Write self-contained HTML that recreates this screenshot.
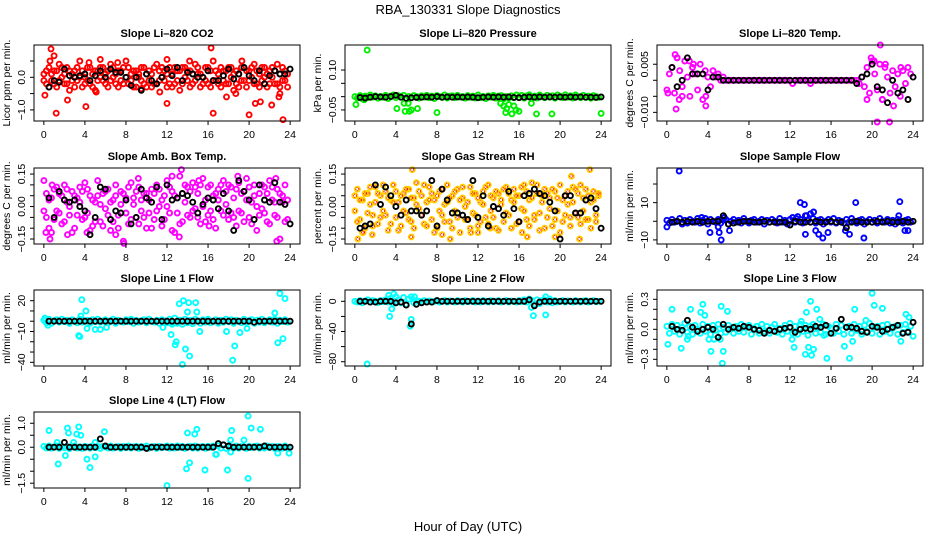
<!DOCTYPE html>
<html><head><meta charset="utf-8">
<style>
html,body{margin:0;padding:0;background:#fff;}
svg text{font-family:"Liberation Sans",Arial,sans-serif;fill:#000;}
</style></head>
<body>
<svg id="chart" width="936" height="540" viewBox="0 0 936 540" xmlns="http://www.w3.org/2000/svg">
<rect width="936" height="540" fill="#fff"/>
<text x="468" y="14" text-anchor="middle" font-size="13">RBA_130331  Slope Diagnostics</text>
<text x="468" y="531" text-anchor="middle" font-size="13">Hour of Day (UTC)</text>
</svg>
<script>
// shared hour grids
const hq = [0,0.25,0.5,0.75,1,1.25,1.5,1.75,2,2.25,2.5,2.75,3,3.25,3.5,3.75,4,4.25,4.5,4.75,5,5.25,5.5,5.75,6,6.25,6.5,6.75,7,7.25,7.5,7.75,8,8.25,8.5,8.75,9,9.25,9.5,9.75,10,10.25,10.5,10.75,11,11.25,11.5,11.75,12,12.25,12.5,12.75,13,13.25,13.5,13.75,14,14.25,14.5,14.75,15,15.25,15.5,15.75,16,16.25,16.5,16.75,17,17.25,17.5,17.75,18,18.25,18.5,18.75,19,19.25,19.5,19.75,20,20.25,20.5,20.75,21,21.25,21.5,21.75,22,22.25,22.5,22.75,23,23.25,23.5,23.75];
const hb = [0.5,1,1.5,2,2.5,3,3.5,4,4.5,5,5.5,6,6.5,7,7.5,8,8.5,9,9.5,10,10.5,11,11.5,12,12.5,13,13.5,14,14.5,15,15.5,16,16.5,17,17.5,18,18.5,19,19.5,20,20.5,21,21.5,22,22.5,23,23.5,24];
const xTicks = [0,4,8,12,16,20,24];

// CO2
const co2Vals = [0.1,-0.2,0.3,-0.1,0.2,-0.3,0.4,0.0,-0.2,0.3,-0.4,0.1,0.2,-0.1,0.5,-0.3,0.0,0.3,-0.2,0.1,-0.4,0.2,0.3,-0.1,0.1,-0.3,0.4,0.0,-0.2,0.2,-0.1,0.3,0.5,-0.2,0.1,-0.3,0.2,0.0,-0.1,0.3,-0.3,0.2,0.1,-0.2,0.4,-0.1,0.0,0.2,-0.3,0.3,0.1,-0.2,0.2,-0.4,0.3,0.0,-0.1,0.2,-0.2,0.4,0.1,-0.3,0.0,0.3,-0.2,0.2,0.5,-0.1,0.1,-0.3,0.2,-0.2,0.3,0.0,-0.4,0.2,0.1,-0.1,0.3,-0.3,0.2,0.0,0.4,-0.2,0.1,-0.1,0.3,-0.3,0.2,0.0,-0.2,0.4,0.1,-0.1,0.2,-0.3];
const co2Vals2 = [-0.1,0.2,-0.3,0.1,-0.2,0.2,-0.1,0.3,0.1,-0.2,0.2,-0.1,-0.3,0.3,0.0,0.2,-0.2,-0.1,0.3,-0.3,0.2,-0.1,0.0,0.3,-0.2,0.2,-0.1,0.3,0.1,-0.3,0.2,-0.2,0.0,0.3,-0.1,0.2,-0.3,0.1,0.3,-0.2,0.1,-0.1,-0.3,0.3,-0.2,0.2,0.3,-0.1,0.1,-0.2,-0.3,0.3,-0.1,0.2,-0.2,0.3,0.2,-0.3,0.1,-0.1,0.3,0.1,-0.2,-0.1,0.3,-0.3,-0.1,0.2,-0.2,0.3,-0.1,0.2,-0.2,0.3,0.1,-0.2,-0.3,0.3,-0.1,0.2,-0.1,0.3,-0.2,0.2,-0.3,0.3,0.0,0.1,-0.2,0.3,0.2,-0.2,-0.3,0.3,-0.1,0.1];
const co2Blk = [-0.3,-0.1,-0.15,0.25,0.05,0.0,0.05,0.1,-0.1,0.05,0.2,0.0,0.25,0.15,0.15,0.0,-0.25,0.0,-0.4,0.1,-0.1,-0.2,0.0,0.25,0.05,0.3,-0.1,0.15,0.1,0.0,0.0,0.2,-0.1,-0.1,0.05,0.25,-0.05,0.1,0.3,0.05,-0.1,0.2,-0.2,0.05,0.2,0.1,0.1,0.25];
const co2OutH = [0.1,0.6,0.7,1.0,1.2,2.3,4.1,4.4,5.1,5.5,7.2,9.5,11.3,12.0,12.0,14.2,16.3,16.5,17.8,18.7,19.3,20.0,20.6,21.1,22.2,22.9,23.0,23.3];
const co2OutV = [-0.55,0.5,0.87,0.66,-1.1,-0.7,-0.9,0.45,-0.45,0.55,0.45,-0.35,-0.45,0.55,-0.8,0.5,0.9,-1.1,-0.6,-0.5,0.5,-1.15,-0.8,-0.75,-0.85,-0.6,-0.5,-1.3];

// Pressure
const presVals = [0.0,-0.005,0.004,-0.008,0.002,-0.004,0.006,-0.002,0.003,-0.006,0.001,-0.003,0.005,-0.007,0.002,0.006,-0.004,0.003,-0.002,0.005,-0.008,0.001,-0.005,0.004,0.0,-0.006,0.003,-0.002,0.005,-0.004,0.002,-0.007,0.004,0.0,-0.003,0.006,-0.005,0.002,0.003,-0.004,0.005,-0.002,0.0,-0.006,0.004,-0.003,0.002,-0.005,0.006,-0.004,0.001,-0.007,0.003,-0.002,0.005,-0.006,0.002,0.004,-0.008,0.001,-0.005,0.003,-0.004,0.006,-0.002,0.005,-0.006,0.003,0.007,-0.003,0.002,-0.005,0.006,0.0,-0.004,0.005,-0.002,0.003,-0.006,0.006,0.001,-0.004,0.007,-0.002,0.003,-0.005,0.006,0.0,-0.004,0.005,-0.003,0.002,-0.006,0.004,0.001,-0.003];
const presBlk = [-0.003,-0.005,-0.002,0.0,-0.001,-0.002,0.0,0.005,-0.002,-0.006,-0.004,-0.003,-0.002,-0.001,-0.002,0.0,-0.002,-0.001,-0.002,-0.001,-0.002,-0.001,-0.002,-0.004,-0.002,-0.001,-0.002,-0.001,-0.002,-0.001,-0.003,-0.004,-0.002,-0.001,-0.002,-0.001,-0.002,-0.001,-0.002,-0.001,-0.002,-0.001,-0.002,-0.001,-0.002,-0.002,-0.003,-0.001];
const presOutH = [1.2,0.1,0.9,4.1,4.8,4.9,5.2,5.3,5.5,6.1,8.0,14.2,14.5,14.7,14.8,15.0,15.3,15.5,15.7,16.0,17.2,17.7,19.2,24.0];
const presOutV = [0.175,-0.03,-0.012,-0.045,-0.025,-0.055,-0.025,-0.055,-0.05,-0.045,-0.06,-0.025,-0.035,-0.06,-0.045,-0.03,-0.065,-0.035,-0.05,-0.055,-0.025,-0.065,-0.065,-0.063];

// Li-820 Temp
const tempVals = [-0.003,0.002,0.004,-0.004,0.007,0.003,-0.002,0.006,0.001,-0.005,0.004,0.002,-0.003,0.005,-0.006,0.003,0.001,-0.002,0.003,0.001,0.002,0.0,0.001,0.0,0.0,0.0,0.0,0.0,0.0,0.0,0.0,0.0,0.0,0.0,0.0,0.0,0.0,0.0,0.0,0.0,0.0,0.0,0.0,0.0,0.0,0.0,0.0,0.0,0.0,-0.001,0.0,0.0,0.0,0.0,0.0,0.0,-0.001,0.0,0.0,0.0,0.0,0.0,0.0,0.0,0.0,0.0,0.0,0.0,0.0,0.0,0.0,0.0,0.0,0.0,0.0,-0.001,0.001,-0.002,0.004,-0.004,0.006,0.002,-0.003,0.005,-0.006,0.004,0.001,-0.004,0.003,-0.002,0.002,-0.005,0.003,-0.001,0.004,0.002];
const tempBlk = [0.004,-0.002,0.0,0.007,0.002,0.002,0.002,-0.003,0.001,0.001,0.0,0.0,0.0,0.0,0.0,0.0,0.0,0.0,0.0,0.0,0.0,0.0,0.0,0.0,0.0,0.0,0.0,0.0,0.0,0.0,0.0,0.0,0.0,0.0,0.0,0.0,-0.001,0.001,0.002,0.005,-0.002,-0.003,-0.007,0.0,-0.004,-0.003,-0.006,0.001];
const tempOutH = [0.1,0.8,0.9,1.2,1.5,2.6,3.8,3.8,2.2,19.5,19.9,20.5,20.8,21.0,21.7,22.1,22.8,1.0,20.2,21.3];
const tempOutV = [-0.004,0.008,-0.009,-0.006,-0.005,0.005,-0.005,-0.008,0.006,-0.006,0.007,-0.013,0.011,-0.006,-0.013,-0.008,0.004,0.007,0.006,0.005];

// Amb. Box Temp
const ambVals = [0.12,-0.05,0.03,-0.12,0.08,-0.02,0.06,-0.08,0.1,0.02,-0.04,0.07,-0.1,0.04,0.09,-0.06,0.11,-0.03,0.05,-0.09,0.02,0.12,-0.07,0.06,-0.01,0.08,-0.11,0.03,0.1,-0.04,0.07,-0.16,0.04,-0.08,0.11,0.01,-0.05,0.09,-0.02,0.06,-0.1,0.03,0.08,-0.06,0.1,0.0,-0.09,0.05,0.12,-0.03,0.07,-0.12,0.04,0.14,-0.07,0.02,0.09,-0.05,0.11,-0.01,0.06,-0.08,0.13,0.03,-0.04,0.1,0.05,-0.1,0.08,-0.02,0.12,0.01,-0.06,0.09,0.04,-0.09,0.11,-0.03,0.07,0.13,-0.05,0.02,0.1,-0.11,0.06,-0.01,0.09,-0.07,0.12,0.03,-0.04,0.08,-0.15,0.05,0.1,-0.06];
const ambVals2 = [-0.02,0.06,-0.1,0.04,-0.06,0.09,-0.03,0.05,-0.07,0.08,0.0,-0.12,0.05,-0.04,0.02,0.07,-0.05,0.08,-0.11,0.03,-0.07,0.05,0.01,-0.09,0.07,-0.04,0.02,-0.07,0.05,-0.1,0.01,0.06,-0.03,0.09,-0.06,0.04,0.07,-0.08,0.03,-0.05,0.06,-0.03,-0.1,0.06,-0.02,0.08,0.03,-0.06,0.0,0.09,-0.11,0.05,-0.03,-0.08,0.06,0.1,-0.04,0.07,-0.02,0.09,-0.05,0.1,0.0,-0.07,0.09,-0.02,-0.06,0.06,0.03,0.1,-0.04,0.07,0.1,-0.03,-0.05,0.08,-0.02,0.06,-0.07,0.03,0.09,-0.08,0.05,0.0,-0.04,0.1,-0.03,0.06,-0.08,0.09,0.02,-0.05,0.06,0.02,-0.07,0.03];
const ambBlk = [0.04,-0.05,0.07,0.03,0.02,0.03,0.0,-0.02,-0.13,-0.05,0.09,0.08,-0.06,-0.02,-0.03,0.03,-0.08,-0.05,0.08,0.04,0.02,0.09,-0.06,0.1,0.03,0.04,0.06,0.05,0.02,-0.03,0.01,0.04,0.03,-0.01,0.06,-0.02,-0.11,0.12,0.07,0.03,-0.06,0.1,0.03,0.02,0.11,0.02,0.01,-0.08];
const ambOutH = [0.2,0.6,0.8,2.3,4.2,7.0,7.8,9.2,12.5,13.4,13.2,15.1,16.1,18.9,22.6,22.7];
const ambOutV = [-0.12,-0.15,0.1,-0.13,-0.12,-0.13,-0.17,0.13,0.14,0.17,-0.14,0.12,-0.09,0.14,0.13,-0.16];

// Gas Stream RH
const rhVals = [-0.02,0.08,-0.06,0.03,-0.1,0.06,0.01,-0.04,0.09,-0.08,0.05,-0.02,0.07,-0.11,0.03,0.1,-0.05,0.02,-0.09,0.06,-0.03,0.08,-0.07,0.04,0.11,-0.01,0.05,-0.08,0.02,0.09,-0.06,0.03,-0.1,0.07,-0.04,0.01,0.1,-0.07,0.05,-0.02,0.08,-0.12,0.04,0.0,-0.06,0.09,-0.03,0.06,-0.09,0.02,0.07,-0.05,0.1,-0.02,0.04,-0.1,0.06,0.01,-0.07,0.09,-0.04,0.03,0.08,-0.08,0.05,-0.01,0.1,-0.06,0.03,0.11,-0.04,0.06,-0.11,0.02,0.08,-0.05,0.04,-0.09,0.07,-0.02,0.1,-0.07,0.05,0.01,-0.05,0.09,-0.03,0.06,-0.08,0.04,0.08,-0.06,0.02,0.07,-0.04,0.05];
const rhVals2 = [0.05,-0.07,0.03,-0.12,0.06,-0.03,0.09,-0.09,0.02,0.06,-0.05,0.1,-0.04,0.04,-0.08,0.02,0.07,-0.11,0.05,-0.02,0.08,-0.06,0.04,-0.1,0.01,0.07,-0.04,0.1,-0.09,0.03,0.06,-0.12,0.05,-0.02,0.08,-0.07,0.02,0.04,-0.1,0.07,-0.05,0.03,0.09,-0.06,0.02,-0.1,0.06,-0.04,0.04,-0.07,0.01,0.09,-0.08,0.05,-0.05,0.07,-0.11,0.03,0.08,-0.03,0.06,-0.1,0.02,0.05,-0.07,0.09,-0.02,0.07,-0.09,0.04,-0.06,0.1,-0.03,0.05,-0.1,0.06,-0.01,0.08,-0.06,0.04,-0.12,0.03,-0.04,0.07,-0.09,0.02,0.08,-0.05,0.1,-0.02,-0.06,0.05,-0.1,0.03,-0.07,0.06];
const rhBlk = [-0.1,-0.09,-0.08,0.1,0.01,0.09,0.05,0.0,-0.04,0.03,-0.02,-0.02,-0.04,-0.02,0.12,-0.09,0.08,0.03,-0.03,-0.03,-0.04,-0.06,0.12,-0.05,0.05,-0.09,0.0,-0.01,-0.04,0.07,-0.01,-0.07,0.05,0.06,0.08,0.06,0.05,0.02,-0.02,-0.15,0.05,0.05,-0.03,-0.03,0.03,0.04,-0.01,-0.1];
const rhOutH = [0.3,0.8,1.7,5.6,5.5,8.5,9.3,12.0,13.2,16.3,16.8,21.1,21.9,22.9,19.5,11.3];
const rhOutV = [-0.15,-0.12,-0.13,0.17,-0.14,-0.13,-0.15,-0.12,-0.1,-0.12,-0.14,0.14,-0.15,0.17,-0.14,-0.12];

// Sample Flow
const flowVals = [0.5,-1,1,-0.5,0,1.5,-1.5,0.5,-1,1,0,-0.5,1.5,-1,0.5,1.5,-1.5,1,0,-0.5,1,-1,0.5,1,-1.5,0,1,-0.5,0.5,-1,1.5,0,-1,0.5,1,-0.5,0,1,-1.5,0.5,-0.5,1,0,-1,1.5,-0.5,0.5,-1.5,1,2,-0.5,2.5,1,-1,3,0.5,-0.5,1.5,-1,0.5,1,-1.5,0,1,-0.5,1.5,-1,0.5,0,-1,1,-0.5,1.5,0,-1,0.5,1,-1.5,0,1,-0.5,0.5,-1,1.5,0,-0.5,1,-1,0.5,-1.5,1,0,-1,0.5,1,-0.5];
const flowBlk = [-0.5,0,-0.5,0,-0.5,0,-0.5,0,0,0,3,-1.5,-1,-0.5,0,0,-0.5,-0.5,0,-0.5,-0.5,-0.5,-0.5,-2,0,-0.5,-0.5,-0.5,0,-0.5,-0.5,0,-0.5,-0.5,-3.5,-0.5,0,-0.5,-0.5,-0.5,0,-0.5,0,-0.5,-0.5,0,-0.5,0];
const flowOutH = [1.2,0.0,4.2,5.1,5.3,5.6,6.1,13.0,13.4,13.6,14.0,14.3,13.5,14.5,14.8,15.2,15.7,17.4,17.8,18.4,19.2,22.7,22.6,23.2,23.5,12.6,3.4,5.0];
const flowOutV = [27,-3,-6,-6,-10,2,-5,10,9,3,4,5,-7,-5,-7,-9,-6,-5,-7,10,-9,10.5,3,-5,-5,1.5,2,-3];

// Line 1 Flow
const l1Vals = [1,-1.5,2,-2,0.5,1.5,-1,2,-0.5,1,-2,1.5,0,-1.5,2,-1,0.5,1,-2,1.5,-0.5,2,-1,0,1.5,-1.5,0.5,2,-2,1,0,-1,1.5,-0.5,2,-2,1,-1,0.5,1.5,-1.5,2,0,-1,1,-2,1.5,0.5,-1.5,2,-1,3,-2,1,-3,2,-1.5,1,-2.5,2,0.5,-2,1.5,-1,2,-1.5,0,1.5,-2,1,-1,2,-0.5,1.5,-2,1,0,-1.5,2,-1,0.5,1.5,-2,1,-1,2,-1.5,0,1.5,-1,2,-2,1,-0.5,1.5,-1];
const l1Blk = [0,0,0,0,0,0,0,0,0,0,0,0,0,0,0,0,0,0,0,0,0,0,0,0,0,0,0,0,0,0,0,0,0,0,0,0,0,0,0,0,-1,0,0,0,0,0,0,0];
const l1OutH = [0.1,3.4,3.5,3.6,3.7,4.1,4.2,5.0,5.5,6.1,12.5,12.4,12.8,12.9,13.2,13.5,13.6,13.8,14.0,14.1,14.2,14.8,15.2,18.4,18.6,17.8,19.1,19.8,22.5,22.8,23.0,23.3,23.5,14.9,11.6,0.4];
const l1OutV = [3,-14,-15,5,21,10,-7,-8,-8,-6,-3,-13,-23,-20,17,-42,20,-27,9,18,-34,18,-10,-38,-24,-10,-11,-7,8,-21,27,-17,22,9,-6,-4];

// Line 2 Flow
const l2Vals = [0,-1,1,-2,0.5,2,-1,1,0,-1.5,1,-0.5,2,-1,4,-3,6,2,-2,5,-4,3,6,-2,1,0,-1,1,-1,0.5,-1,0,1,-1,0,1,-1,0.5,0,-1,1,0,-1,1,-0.5,0,1,-1,0.5,-1,1,0,-1,1,-0.5,0,1,-1,0,1,-1,0.5,0,-1,1,-0.5,2,-1,3,1,-4,2,-3,1,2,-1,3,-2,1,-1,0,1,-1,0.5,0,-1,1,0,-1,0.5,1,-1,0,1,-0.5,0];
const l2Blk = [0,0,-1,-1,0,0,0,-2,-1,-5,-30,-4,-2,-1,-1,1,0,0,0,0,0,0,0,0,0,0,0,0,0,0,0,0,0,2,-6,-1,0,0,0,0,0,0,0,0,0,0,0,0];
const l2OutH = [1.2,3.4,3.6,3.8,5.4,5.5,17.4,18.6,17.2,3.3,5.8,18.6];
const l2OutV = [-83,-20,-10,10,-33,-24,-19,-18,-8,8,6,6];

// Line 3 Flow
const l3Vals = [0.03,-0.04,0.05,-0.02,0.04,-0.05,0.02,0.06,-0.03,0.03,-0.05,0.04,0.0,-0.04,0.05,-0.02,0.03,-0.05,0.04,-0.01,0.05,-0.04,0.02,-0.03,0.04,0.01,-0.04,0.03,-0.02,0.05,-0.03,0.02,0.04,-0.05,0.01,0.03,-0.04,0.05,-0.02,0.03,-0.04,0.02,0.05,-0.03,0.01,-0.05,0.04,-0.02,0.06,-0.04,0.03,-0.05,0.05,-0.02,0.04,-0.06,0.03,0.05,-0.04,0.02,-0.03,0.05,-0.05,0.03,0.01,-0.04,0.05,-0.02,0.04,-0.05,0.02,0.03,-0.04,0.05,-0.01,0.03,-0.05,0.04,-0.02,0.06,-0.04,0.02,0.03,-0.05,0.04,-0.02,0.05,-0.04,0.01,0.03,-0.05,0.04,-0.03,0.05,-0.02,0.03];
const l3Blk = [0.03,0.0,-0.01,0.09,0.02,-0.02,0.0,0.02,0.0,-0.08,0.05,0.0,0.02,0.01,0.03,0.02,0.0,-0.01,-0.04,-0.01,-0.02,0.0,0.01,0.02,-0.03,0.0,0.01,0.0,0.03,0.02,0.04,-0.04,0.01,0.1,0.02,0.02,0.01,-0.02,-0.03,0.03,0.02,-0.02,0.0,0.02,0.04,-0.04,-0.03,0.07];
const l3OutH = [0.1,0.5,1.4,2.1,2.3,3.3,3.5,3.7,4.1,4.3,4.6,5.3,5.5,5.4,5.9,5.2,12.2,12.4,13.1,13.5,13.6,13.8,14.0,14.3,14.1,14.6,14.9,15.3,15.6,17.3,17.8,18.1,18.3,19.4,20.0,20.2,21.0,22.8,23.3,23.6,24.0,2.0];
const l3OutV = [-0.15,0.2,-0.19,-0.07,0.2,0.17,0.25,0.14,-0.1,-0.22,-0.1,0.23,-0.22,-0.34,0.18,-0.1,-0.1,-0.18,0.08,-0.25,0.17,-0.18,0.28,-0.2,-0.26,0.2,0.1,-0.06,-0.29,-0.17,-0.29,-0.12,0.2,0.09,0.36,0.24,0.21,-0.12,0.15,0.12,-0.07,-0.1];

// Line 4 (LT) Flow
const l4Vals = [0.04,-0.03,0.05,-0.04,0.02,0.06,-0.05,0.03,-0.02,0.04,-0.06,0.03,0.05,-0.03,0.02,-0.05,0.04,0.01,-0.04,0.05,-0.02,0.03,-0.05,0.04,0.02,-0.03,0.05,-0.04,0.01,0.03,-0.05,0.04,-0.02,0.05,-0.03,0.02,0.04,-0.05,0.03,-0.01,0.05,-0.04,0.02,0.03,-0.05,0.04,-0.02,0.01,0.05,-0.04,0.03,-0.03,0.05,-0.02,0.04,-0.05,0.02,0.04,-0.03,0.05,-0.04,0.02,0.03,-0.05,0.04,-0.01,0.05,-0.3,0.06,-0.04,0.1,-0.05,0.04,0.02,-0.03,0.05,-0.04,0.03,0.01,-0.05,0.04,-0.02,0.03,0.05,-0.04,0.02,-0.03,0.05,-0.01,0.04,-0.05,0.03,0.02,-0.04,0.05,-0.02];
const l4Blk = [0.0,0.0,0.0,0.2,0.0,0.0,0.0,0.0,0.0,0.0,0.35,0.05,0.0,0.0,0.0,0.0,0.0,0.0,0.0,-0.05,0.0,0.0,0.0,0.0,0.0,0.0,0.0,0.0,0.0,0.0,0.0,0.0,0.0,0.15,0.1,0.05,0.0,0.0,0.0,0.0,0.0,0.0,0.05,0.0,0.0,0.0,0.0,0.0];
const l4OutH = [0.5,1.4,1.3,2.1,2.3,2.4,3.2,3.4,3.6,2.9,4.2,4.5,5.0,5.9,5.0,12.0,13.9,14.0,14.2,14.7,14.9,15.7,16.8,17.9,18.2,18.3,18.2,19.5,19.9,19.9,20.2,21.1,22.8,23.9];
const l4OutV = [0.7,-0.7,0.2,-0.35,0.8,0.6,0.55,0.85,0.5,0.2,-0.5,-0.85,-0.4,0.65,0.2,-1.6,-0.9,0.6,-0.65,0.55,0.75,-0.95,-0.3,-0.95,0.3,0.7,-0.2,0.3,1.3,-1.3,0.8,0.75,-0.25,-0.25];

// Layout (positions / ranges)
const colL = [34,345,657], rowT = [45,168,290,412], PW = 266, PH = 76;
const panels = [
 {name:'co2',title:'Slope Li\u2013820 CO2',ylab:'Licor ppm per min.',c:0,r:0,ymin:-1.34,ymax:0.99,ticks:[-1,-0.5,0,0.5],labels:{'-1':'\u22121.0','0':'0.0'},col:'#ff0000',series:[[hq,co2Vals],[hq,co2Vals2],[co2OutH,co2OutV]],blk:co2Blk},
 {name:'pressure',title:'Slope Li\u2013820 Pressure',ylab:'kPa per min.',c:1,r:0,ymin:-0.0915,ymax:0.194,ticks:[-0.05,0,0.05,0.1],labels:{'-0.05':'\u22120.05','0.1':'0.10'},col:'#00ee00',series:[[hq,presVals],[presOutH,presOutV]],blk:presBlk},
 {name:'li820-temp',title:'Slope Li\u2013820 Temp.',ylab:'degrees C per min.',c:2,r:0,ymin:-0.0127,ymax:0.011,ticks:[-0.01,-0.005,0,0.005],labels:{'-0.01':'\u22120.010','0.005':'0.005'},col:'#ff00ff',series:[[hq,tempVals],[tempOutH,tempOutV]],blk:tempBlk},
 {name:'amb-box-temp',title:'Slope Amb. Box Temp.',ylab:'degrees C per min.',c:0,r:1,ymin:-0.173,ymax:0.178,ticks:[-0.15,-0.1,-0.05,0,0.05,0.1,0.15],labels:{'-0.15':'\u22120.15','0':'0.00','0.15':'0.15'},col:'#ff00ff',series:[[hq,ambVals],[hq,ambVals2],[ambOutH,ambOutV]],blk:ambBlk},
 {name:'gas-stream-rh',title:'Slope Gas Stream RH',ylab:'percent per min.',c:1,r:1,ymin:-0.173,ymax:0.178,ticks:[-0.15,-0.1,-0.05,0,0.05,0.1,0.15],labels:{'-0.15':'\u22120.15','0':'0.00','0.15':'0.15'},col:'#ffd000',inner:'#ff0000',series:[[hq,rhVals],[hq,rhVals2],[rhOutH,rhOutV]],blk:rhBlk},
 {name:'sample-flow',title:'Slope Sample Flow',ylab:'ml/min per min.',c:2,r:1,ymin:-12.2,ymax:28.6,ticks:[-10,0,10,20],labels:{'-10':'\u221210','10':'10'},col:'#0000ff',series:[[hq,flowVals],[flowOutH,flowOutV]],blk:flowBlk},
 {name:'line1-flow',title:'Slope Line 1 Flow',ylab:'ml/min per min.',c:0,r:2,ymin:-43.6,ymax:30.4,ticks:[-40,-30,-20,-10,0,10,20],labels:{'-40':'\u221240','-10':'\u221210','20':'20'},col:'#00ffff',series:[[hq,l1Vals],[l1OutH,l1OutV]],blk:l1Blk},
 {name:'line2-flow',title:'Slope Line 2 Flow',ylab:'ml/min per min.',c:1,r:2,ymin:-85.7,ymax:15,ticks:[-80,-60,-40,-20,0],labels:{'-80':'\u221280','-40':'\u221240','0':'0'},col:'#00ffff',series:[[hq,l2Vals],[l2OutH,l2OutV]],blk:l2Blk},
 {name:'line3-flow',title:'Slope Line 3 Flow',ylab:'ml/min per min.',c:2,r:2,ymin:-0.367,ymax:0.393,ticks:[-0.3,-0.2,-0.1,0,0.1,0.2,0.3],labels:{'-0.3':'\u22120.3','0':'0.0','0.3':'0.3'},col:'#00ffff',series:[[hq,l3Vals],[l3OutH,l3OutV]],blk:l3Blk},
 {name:'line4-flow',title:'Slope Line 4 (LT) Flow',ylab:'ml/min per min.',c:0,r:3,ymin:-1.7,ymax:1.47,ticks:[-1.5,-1,-0.5,0,0.5,1],labels:{'-1.5':'\u22121.5','0':'0.0','1':'1.0'},col:'#00ffff',series:[[hq,l4Vals],[l4OutH,l4OutV]],blk:l4Blk}
];

const NS = 'http://www.w3.org/2000/svg';
const svg = document.getElementById('chart');
function mk(tag, attrs, parent){const e=document.createElementNS(NS,tag);for(const k in attrs)e.setAttribute(k,attrs[k]);parent.appendChild(e);return e;}

panels.forEach(p=>{
  const L=colL[p.c], T=rowT[p.r], B=T+PH, R=L+PW;
  const xs=h=>L+(h+0.96)/25.92*PW;
  const ys=v=>B-(v-p.ymin)/(p.ymax-p.ymin)*PH;
  const g=mk('g',{},svg);
  
  
  const t=mk('text',{x:(L+R)/2,y:T-8,'text-anchor':'middle','font-size':'11','font-weight':'bold'},g);
  t.textContent=p.title;
  
  
  const pts=mk('g',{fill:'none','stroke-width':'1.9'},g);
  
  
  p.series.forEach(s=>{
    const n=Math.min(s[0].length,s[1].length);
    for(let i=0;i<n;i++){
      const c=mk('circle',{cx:xs(s[0][i]).toFixed(1),cy:ys(s[1][i]).toFixed(1),r:'2.5',stroke:p.col},pts);
      
      
      if(p.inner){const c2=mk('circle',{cx:xs(s[0][i]).toFixed(1),cy:ys(s[1][i]).toFixed(1),r:'1.5',stroke:p.inner,'stroke-width':'1','stroke-dasharray':'1 1'},pts);
        
        }
    }
  });
  const n=Math.min(hb.length,p.blk.length);
  for(let i=0;i<n;i++){
    const c=mk('circle',{cx:xs(hb[i]).toFixed(1),cy:ys(p.blk[i]).toFixed(1),r:'2.5',stroke:'#000'},pts);
    
    
  }
  const box=mk('rect',{x:L,y:T,width:PW,height:PH,fill:'none',stroke:'#000','stroke-width':'1'},g);
  
  
  const xa=mk('g',{},g);
  
  
  mk('line',{x1:xs(xTicks[0]),x2:xs(xTicks[xTicks.length-1]),y1:B,y2:B,stroke:'#000'},xa);
  xTicks.forEach(h=>{
    mk('line',{x1:xs(h),x2:xs(h),y1:B,y2:B+4,stroke:'#000'},xa);
    const tl=mk('text',{x:xs(h),y:B+17,'text-anchor':'middle','font-size':'10.5'},xa);
    tl.textContent=String(h);
    
    
  });
  const ya=mk('g',{},g);
  
  
  mk('line',{x1:L,x2:L,y1:ys(p.ticks[0]),y2:ys(p.ticks[p.ticks.length-1]),stroke:'#000'},ya);
  p.ticks.forEach(v=>{
    const y=ys(v);
    mk('line',{x1:L-4,x2:L,y1:y,y2:y,stroke:'#000'},ya);
    const key=String(v);
    if(p.labels[key]!==undefined){
      const tl=mk('text',{x:L-9,y:y,'text-anchor':'middle','font-size':'10.5',transform:`rotate(-90 ${L-9} ${y})`},ya);
      tl.textContent=p.labels[key];
      
      
    }
  });
  const yt=mk('text',{x:L-24,y:(T+B)/2,'text-anchor':'middle','font-size':'10.5',transform:`rotate(-90 ${L-24} ${(T+B)/2})`},ya);
  yt.textContent=p.ylab;
  
  
});
</script>
</body></html>
